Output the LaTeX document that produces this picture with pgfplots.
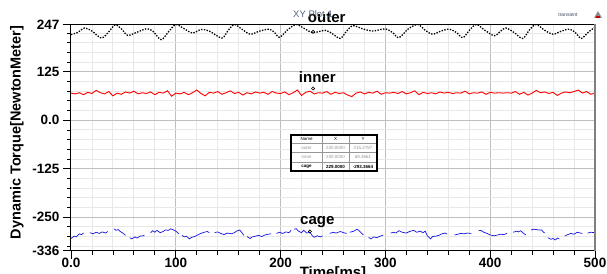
\documentclass[border=0pt]{standalone}
\usepackage{pgfplots}
\pgfplotsset{compat=1.18}
\usepackage{fontspec}
\setmainfont{Liberation Sans}
\definecolor{titleblue}{RGB}{80,100,130}
\definecolor{cageblue}{RGB}{20,20,225}
\definecolor{tgray}{RGB}{150,150,150}
\begin{document}
\begin{tikzpicture}
\begin{axis}[
  at={(0pt,0pt)}, anchor=south west,
  scale only axis, width=524pt, height=226pt,
  xmin=0, xmax=500, ymin=-336, ymax=247,
  xtick={0,100,200,300,400,500},
  xticklabels={0.0,100,200,300,400,500},
  minor xtick={20,40,60,80,120,140,160,180,220,240,260,280,320,340,360,380,420,440,460,480},
  ytick={-336,-250,-125,0,125,247},
  yticklabels={-336,-250,-125,0.0,125,247},
  minor ytick={-325,-300,-275,-225,-200,-175,-150,-100,-75,-50,-25,25,50,75,100,150,175,200,225},
  grid=both,
  major grid style={line width=1pt, color=black!25},
  minor grid style={line width=0.9pt, color=black!9},
  tick align=outside, xtick pos=left, ytick pos=left,
  major tick length=8pt, minor tick length=4pt,
  tick style={black, line width=0.8pt},
  axis line style={black, line width=1pt},
  clip mode=individual,
  unbounded coords=jump,
  tick label style={font=\fontsize{13.5}{14}\selectfont\bfseries},
  xticklabel style={yshift=4pt},
  /pgf/number format/assume math mode=true,
  xlabel={Time[ms]},
  xlabel style={font=\fontsize{15}{16}\selectfont\bfseries, at={([yshift=-27pt]axis description cs:0.5,0)}, anchor=base},
  ylabel={Dynamic Torque[NewtonMeter]},
  ylabel style={font=\fontsize{14.5}{15}\selectfont\bfseries, at={([xshift=-54pt]axis description cs:0,0.522)}, anchor=center},
]
% outer
\addplot[black, line width=1.3pt, dash pattern=on 1.4pt off 1.4pt, smooth, tension=0.5] coordinates {
(0,221)(6,226)(13,238)(20,230)(29,212)(36,228)(42,246)(48,236)(54,219)(62,226)(72,236)(78,230)(86,208)(93,228)(100,247)(108,236)(116,225)(124,234)(132,230)(144,212)(150,232)(156,247)(163,235)(171,222)(180,230)(189,235)(194,227)(199,214)(207,234)(215,247)(223,236)(231,226)(243,232)(250,222)(257,211)(263,230)(269,244)(278,236)(288,230)(295,234)(301,235)(307,226)(313,213)(322,236)(331,247)(338,232)(345,222)(353,230)(361,235)(368,226)(374,213)(381,235)(387,247)(395,232)(404,218)(410,230)(415,238)(423,226)(431,211)(438,235)(444,247)(452,232)(460,222)(468,230)(476,235)(482,224)(487,211)(494,228)(500,240)
};
% inner
\addplot[red, line width=0.9pt] coordinates {
(0,70)(4,68)(8,71)(12,66)(16,72)(20,69)(24,77)(28,71)(32,68)(36,74)(40,63)(44,70)(48,67)(52,73)(56,70)(60,75)(64,68)(68,71)(72,69)(76,73)(80,66)(84,72)(88,70)(92,76)(96,62)(100,70)(104,68)(108,72)(112,66)(116,71)(120,78)(124,69)(128,63)(132,72)(136,70)(140,74)(144,67)(148,71)(152,76)(156,69)(160,72)(164,65)(168,71)(172,68)(176,73)(180,70)(184,72)(188,67)(192,74)(196,70)(200,69)(204,73)(208,66)(212,71)(216,78)(220,64)(224,72)(228,75)(232,68)(236,71)(240,70)(244,74)(248,67)(252,72)(256,69)(260,71)(264,65)(268,61)(272,70)(276,73)(280,68)(284,72)(288,70)(292,75)(296,67)(300,71)(304,70)(308,72)(312,69)(316,74)(320,68)(324,71)(328,76)(332,66)(336,72)(340,69)(344,71)(348,68)(352,73)(356,70)(360,72)(364,69)(368,71)(372,70)(376,75)(380,68)(384,71)(388,70)(392,73)(396,67)(400,72)(404,70)(408,71)(412,70)(416,71)(420,70)(424,74)(428,67)(432,72)(436,65)(440,70)(444,77)(448,71)(452,73)(456,69)(460,72)(464,64)(468,70)(472,73)(476,71)(480,74)(484,78)(488,70)(492,74)(496,67)(500,70)
};
% cage
\addplot[cageblue, line width=0.7pt] coordinates {
(0,-305)(3,-299)(5,-301)(8,-293)(10,-295)(12,-291)(14,nan)
(18,-290)(21,-293)(24,-289)(27,-292)(30,-288)(33,-291)(35,-287)(37,nan)
(41,-280)(43,-284)(45,-282)(47,-287)(50,-292)(52,-297)(54,nan)
(56,-303)(58,-306)(61,-301)(63,-304)(66,-299)(69,-298)(70,-296)(72,nan)
(76,-290)(78,-285)(80,-289)(82,-284)(85,-290)(88,-287)(90,-283)(93,-284)(95,-280)(97,-282)(100,-286)(103,-293)(104,nan)
(106,-297)(108,-301)(110,-299)(113,-306)(115,-302)(118,-300)(120,-297)(123,-293)(127,-289)(130,-287)(132,-290)(134,nan)
(137,-290)(140,-288)(143,-292)(146,-295)(149,-291)(153,-293)(156,-290)(158,-286)(161,-283)(163,-290)(165,-297)(166,nan)
(168,-300)(171,-305)(173,-301)(176,-299)(179,-297)(182,-300)(185,-296)(188,-294)(191,-293)(193,nan)
(196,-292)(199,-289)(202,-292)(205,-288)(208,-290)(210,-284)(211,nan)
(213,-281)(215,-280)(217,-286)(220,-290)(222,-284)(225,-291)(228,-289)(230,-297)(232,-302)(235,-298)(238,-301)(240,-298)(243,nan)
(247,-292)(250,-289)(253,-291)(257,-287)(260,-290)(263,-292)(264,nan)
(266,-289)(270,-286)(273,-281)(275,-285)(277,-291)(279,-296)(281,nan)
(284,-302)(286,-306)(289,-301)(292,-303)(295,-299)(298,-296)(301,nan)
(305,-291)(308,-289)(310,-291)(313,-285)(316,-289)(320,-291)(323,-287)(327,-284)(330,-289)(333,-286)(336,-290)(338,-286)(340,-298)(343,-306)(345,-300)(348,-299)(351,-297)(354,-293)(357,-291)(359,-294)(362,nan)
(366,-296)(369,-294)(372,-292)(375,-293)(378,-291)(382,-292)(385,nan)
(389,-285)(391,-284)(394,-289)(397,-292)(400,-296)(404,-298)(407,-296)(410,-294)(413,-295)(416,-292)(419,nan)
(422,-289)(425,-286)(427,-288)(429,-285)(432,-292)(434,-296)(436,nan)
(439,-283)(442,-281)(446,-283)(449,-283)(451,-289)(452,-291)(453,nan)
(455,-303)(458,-307)(460,-305)(462,-309)(464,-304)(466,-306)(468,nan)
(471,-299)(474,-295)(477,-292)(480,-294)(483,-289)(486,-291)(488,-292)(490,nan)
(493,-291)(496,-289)(500,-290)
};
% markers
\addplot[only marks, mark=o, mark size=1.6pt, black, line width=0.6pt] coordinates {(231,228)(231,82)(228,-287)};
% labels
\node[font=\fontsize{15}{16}\selectfont\bfseries] at (axis cs:244,265) {outer};
\node[font=\fontsize{15}{16}\selectfont\bfseries] at (axis cs:235,111) {inner};
\node[font=\fontsize{15}{16}\selectfont\bfseries] at (axis cs:235,-262) {cage};
% right border
\draw[black!50, line width=1.8pt] (rel axis cs:1,0) -- (rel axis cs:1,1);
\end{axis}
% overlay items in pixel coordinates
\begin{scope}[x=1pt, y=-1pt, shift={(-71pt,250.5pt)}]
  \node[font=\fontsize{9.5}{10}\selectfont, text=titleblue] at (313,14) {XY Plot 1};
  \node[font=\fontsize{5}{5}\selectfont, text=titleblue!70!black] at (568,15) {transient};
  \fill[black!45] (594,18) -- (598,11) -- (602,18) -- cycle;
  \fill[red!80!black] (596,18) rectangle (600,16.5);
  % table
  \fill[white] (291,135) rectangle (377,171);
  \draw[tgray, line width=0.6pt] (291,143.5) -- (377,143.5) (291,152.5) -- (377,152.5) (291,162) -- (377,162);
  \draw[tgray, line width=0.6pt] (322,135) -- (322,171) (349,135) -- (349,171);
  \draw[black, line width=1.2pt] (291,135) rectangle (377,171);
  \begin{scope}[every node/.style={font=\fontsize{4.5}{5}\selectfont, inner sep=0pt}]
    \node at (306.5,139.3) {Name};
    \node at (335.5,139.3) {X};
    \node at (363,139.3) {Y};
    \node[text=tgray] at (306.5,148) {outer};
    \node[text=tgray] at (335.5,148) {230.0000};
    \node[text=tgray] at (363,148) {215.2787};
    \node[text=tgray] at (306.5,157.3) {inner};
    \node[text=tgray] at (335.5,157.3) {230.0000};
    \node[text=tgray] at (363,157.3) {68.3661};
    \node[font=\fontsize{4.5}{5}\selectfont\bfseries] at (306.5,166.5) {cage};
    \node[font=\fontsize{4.5}{5}\selectfont\bfseries] at (335.5,166.5) {229.0000};
    \node[font=\fontsize{4.5}{5}\selectfont\bfseries] at (363,166.5) {-293.3664};
  \end{scope}
\end{scope}
\pgfresetboundingbox
\path (-71pt,-22.5pt) rectangle (536pt,250.5pt);
\end{tikzpicture}
\end{document}
